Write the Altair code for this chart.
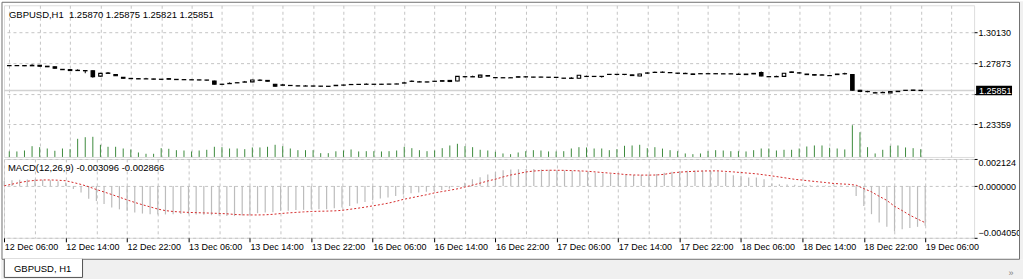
import json
import altair as alt
import pandas as pd

# ---------------- data ----------------
bar_index = list(range(121))
time_labels = ["12 Dec 06:00", "12 Dec 14:00", "12 Dec 22:00", "13 Dec 06:00",
               "13 Dec 14:00", "13 Dec 22:00", "16 Dec 06:00", "16 Dec 14:00",
               "16 Dec 22:00", "17 Dec 06:00", "17 Dec 14:00", "17 Dec 22:00",
               "18 Dec 06:00", "18 Dec 14:00", "18 Dec 22:00", "19 Dec 06:00"]

opens = [1.27700, 1.27690, 1.27700, 1.27680, 1.27720, 1.27650, 1.27610, 1.27420, 1.27400, 1.27330,
         1.27330, 1.27320, 1.26920, 1.27120, 1.27040, 1.26830, 1.26750, 1.26730, 1.26710, 1.26710,
         1.26690, 1.26730, 1.26680, 1.26660, 1.26650, 1.26640, 1.26630, 1.26560, 1.26320, 1.26360,
         1.26420, 1.26470, 1.26490, 1.26620, 1.26600, 1.26320, 1.26240, 1.26230, 1.26200, 1.26180,
         1.26190, 1.26180, 1.26170, 1.26240, 1.26260, 1.26290, 1.26300, 1.26310, 1.26320, 1.26310,
         1.26320, 1.26330, 1.26400, 1.26530, 1.26480, 1.26490, 1.26530, 1.26580, 1.26600, 1.26560,
         1.26880, 1.26860, 1.26840, 1.26960, 1.26810, 1.26800, 1.26790, 1.26870, 1.26860, 1.26850,
         1.26840, 1.26840, 1.26830, 1.26770, 1.26750, 1.26760, 1.26900, 1.26900, 1.26900, 1.27050,
         1.27050, 1.27050, 1.27010, 1.26930, 1.27150, 1.27190, 1.27210, 1.27180, 1.27140, 1.27100,
         1.27080, 1.27100, 1.27090, 1.27100, 1.27090, 1.27080, 1.27040, 1.27070, 1.27120, 1.27190,
         1.26880, 1.26870, 1.26900, 1.27230, 1.27160, 1.27070, 1.27030, 1.26990, 1.26960, 1.27070,
         1.27090, 1.27040, 1.25870, 1.25780, 1.25670, 1.25690, 1.25680, 1.25800, 1.25870, 1.25890,
         1.25870]
highs = [1.27720, 1.27725, 1.27715, 1.27790, 1.27735, 1.27660, 1.27620, 1.27435, 1.27410, 1.27420,
         1.27340, 1.27340, 1.27160, 1.27220, 1.27060, 1.26840, 1.26760, 1.26740, 1.26790, 1.26720,
         1.26700, 1.26740, 1.26690, 1.26670, 1.26660, 1.26650, 1.26640, 1.26580, 1.26340, 1.26450,
         1.26450, 1.26560, 1.26650, 1.26680, 1.26610, 1.26340, 1.26340, 1.26250, 1.26210, 1.26240,
         1.26200, 1.26190, 1.26180, 1.26250, 1.26280, 1.26320, 1.26330, 1.26380, 1.26330, 1.26340,
         1.26350, 1.26360, 1.26500, 1.26600, 1.26560, 1.26500, 1.26560, 1.26590, 1.26610, 1.26920,
         1.26930, 1.26950, 1.27010, 1.26970, 1.26820, 1.26810, 1.26810, 1.26880, 1.26920, 1.26860,
         1.26870, 1.26850, 1.26840, 1.26780, 1.26840, 1.27000, 1.26950, 1.26910, 1.26910, 1.27060,
         1.27060, 1.27060, 1.27020, 1.27090, 1.27200, 1.27250, 1.27260, 1.27190, 1.27150, 1.27170,
         1.27090, 1.27110, 1.27120, 1.27110, 1.27100, 1.27110, 1.27120, 1.27080, 1.27130, 1.27260,
         1.26890, 1.26950, 1.27150, 1.27240, 1.27210, 1.27080, 1.27040, 1.27060, 1.26970, 1.27080,
         1.27170, 1.27060, 1.25900, 1.25830, 1.25750, 1.25770, 1.25800, 1.25810, 1.25880, 1.25900,
         1.25875]
lows = [1.27670, 1.27675, 1.27660, 1.27665, 1.27630, 1.27590, 1.27480, 1.27380, 1.27320, 1.27320,
        1.27130, 1.26800, 1.26880, 1.27100, 1.26930, 1.26740, 1.26710, 1.26700, 1.26700, 1.26680,
        1.26660, 1.26680, 1.26650, 1.26630, 1.26630, 1.26610, 1.26600, 1.26300, 1.26290, 1.26350,
        1.26400, 1.26460, 1.26470, 1.26550, 1.26530, 1.26150, 1.26230, 1.26200, 1.26170, 1.26170,
        1.26160, 1.26150, 1.26140, 1.26190, 1.26230, 1.26280, 1.26290, 1.26300, 1.26300, 1.26300,
        1.26310, 1.26320, 1.26390, 1.26480, 1.26470, 1.26460, 1.26520, 1.26530, 1.26480, 1.26540,
        1.26820, 1.26850, 1.26830, 1.26910, 1.26790, 1.26780, 1.26780, 1.26830, 1.26820, 1.26830,
        1.26830, 1.26820, 1.26800, 1.26740, 1.26740, 1.26740, 1.26850, 1.26870, 1.26810, 1.27030,
        1.26980, 1.26990, 1.26950, 1.26920, 1.27090, 1.27150, 1.27170, 1.27150, 1.27080, 1.27090,
        1.27030, 1.27080, 1.27080, 1.27070, 1.27070, 1.27070, 1.27030, 1.27020, 1.27070, 1.26900,
        1.26850, 1.26860, 1.26880, 1.27180, 1.27100, 1.27020, 1.26980, 1.26980, 1.26930, 1.27020,
        1.27040, 1.25840, 1.25740, 1.25720, 1.25660, 1.25680, 1.25660, 1.25760, 1.25850, 1.25850,
        1.25821]
closes = [1.27690, 1.27700, 1.27680, 1.27720, 1.27650, 1.27610, 1.27500, 1.27395, 1.27330, 1.27350,
          1.27310, 1.26880, 1.27120, 1.27150, 1.26950, 1.26760, 1.26730, 1.26710, 1.26720, 1.26690,
          1.26680, 1.26690, 1.26660, 1.26650, 1.26640, 1.26630, 1.26620, 1.26320, 1.26310, 1.26380,
          1.26430, 1.26490, 1.26630, 1.26610, 1.26540, 1.26170, 1.26270, 1.26220, 1.26190, 1.26190,
          1.26180, 1.26170, 1.26160, 1.26210, 1.26250, 1.26300, 1.26310, 1.26320, 1.26310, 1.26320,
          1.26330, 1.26340, 1.26420, 1.26540, 1.26500, 1.26480, 1.26540, 1.26540, 1.26520, 1.26900,
          1.26870, 1.26880, 1.26990, 1.26920, 1.26800, 1.26790, 1.26800, 1.26840, 1.26870, 1.26840,
          1.26850, 1.26830, 1.26820, 1.26760, 1.26770, 1.26980, 1.26890, 1.26890, 1.26890, 1.27040,
          1.27040, 1.27040, 1.26960, 1.27070, 1.27140, 1.27200, 1.27200, 1.27170, 1.27130, 1.27120,
          1.27040, 1.27090, 1.27100, 1.27090, 1.27080, 1.27090, 1.27060, 1.27030, 1.27080, 1.26930,
          1.26870, 1.26890, 1.27130, 1.27190, 1.27150, 1.27030, 1.26990, 1.27010, 1.26950, 1.27030,
          1.27100, 1.25870, 1.25780, 1.25770, 1.25690, 1.25710, 1.25780, 1.25770, 1.25860, 1.25860,
          1.25851]
volumes = [1400, 1380, 1620, 2700, 2450, 2120, 1550, 2120, 1950, 4550,
           4950, 5050, 3050, 2550, 2550, 2120, 1880, 1120, 800, 800,
           2200, 2050, 1700, 1620, 1380, 1620, 1800, 2550, 2450, 2120,
           2120, 1950, 2380, 2380, 2550, 3050, 2700, 2120, 1700, 1700,
           1700, 950, 950, 1420, 1620, 1880, 1380, 1450, 1450, 1380,
           1450, 1620, 2550, 2200, 1700, 1450, 1620, 2200, 2880, 3300,
           2700, 2450, 1800, 1620, 1300, 880, 700, 1120, 1450, 1700,
           1620, 1380, 1380, 1450, 2120, 2450, 2380, 2120, 2120, 1700,
           1950, 2800, 2880, 3050, 2200, 2450, 2100, 1700, 1450, 880,
           700, 880, 1450, 1700, 1620, 1450, 1450, 1380, 1700, 2120,
           2120, 1620, 1800, 1800, 2120, 2620, 2880, 2880, 2300, 2120,
           1880, 7950, 6200, 2450, 880, 1800, 2800, 2880, 2380, 2200,
           1950]
macd_main = [0.00040, 0.00045, 0.00050, 0.00052, 0.00052, 0.00050, 0.00045, 0.00038, 0.00028, -0.00022,
             -0.00050, -0.00100, -0.00116, -0.00141, -0.00168, -0.00182, -0.00194, -0.00207, -0.00215, -0.00220,
             -0.00222, -0.00222, -0.00220, -0.00218, -0.00220, -0.00222, -0.00224, -0.00228, -0.00232, -0.00235,
             -0.00235, -0.00230, -0.00226, -0.00212, -0.00207, -0.00205, -0.00194, -0.00194, -0.00188, -0.00186,
             -0.00181, -0.00181, -0.00181, -0.00173, -0.00168, -0.00155, -0.00137, -0.00124, -0.00110, -0.00098,
             -0.00090, -0.00077, -0.00066, -0.00056, -0.00050, -0.00045, -0.00038, -0.00030, -0.00020, -0.00004,
             0.00027, 0.00054, 0.00070, 0.00090, 0.00110, 0.00125, 0.00130, 0.00132, 0.00133, 0.00133,
             0.00130, 0.00128, 0.00125, 0.00122, 0.00120, 0.00118, 0.00112, 0.00105, 0.00100, 0.00095,
             0.00090, 0.00088, 0.00087, 0.00088, 0.00090, 0.00095, 0.00105, 0.00112, 0.00118, 0.00120,
             0.00122, 0.00122, 0.00120, 0.00115, 0.00106, 0.00085, 0.00080, 0.00067, 0.00067, 0.00054,
             0.00020, 0.00015, 0.00012, 0.00010, 0.00008, 0.00006, 0.00005, 0.00004, 0.00003, 0.00002,
             0.00001, -0.00077, -0.00155, -0.00220, -0.00285, -0.00319, -0.00355, -0.00337, -0.00329, -0.00319,
             -0.003096]
macd_signal = [0.00002, 0.00015, 0.00028, 0.00038, 0.00045, 0.00048, 0.00048, 0.00046, 0.00042, 0.00028,
               0.00013, -0.00005, -0.00027, -0.00046, -0.00066, -0.00087, -0.00108, -0.00128, -0.00146, -0.00163,
               -0.00180, -0.00192, -0.00199, -0.00203, -0.00206, -0.00208, -0.00210, -0.00212, -0.00214, -0.00217,
               -0.00222, -0.00225, -0.00226, -0.00226, -0.00225, -0.00221, -0.00215, -0.00210, -0.00206, -0.00202,
               -0.00199, -0.00197, -0.00196, -0.00194, -0.00190, -0.00182, -0.00174, -0.00165, -0.00155, -0.00145,
               -0.00134, -0.00120, -0.00104, -0.00092, -0.00080, -0.00068, -0.00054, -0.00043, -0.00033, -0.00022,
               -0.00008, 0.00007, 0.00023, 0.00040, 0.00054, 0.00072, 0.00087, 0.00098, 0.00111, 0.00118,
               0.00122, 0.00124, 0.00124, 0.00123, 0.00121, 0.00119, 0.00116, 0.00111, 0.00106, 0.00101,
               0.00096, 0.00090, 0.00087, 0.00086, 0.00086, 0.00087, 0.00092, 0.00103, 0.00109, 0.00113,
               0.00116, 0.00118, 0.00119, 0.00119, 0.00115, 0.00111, 0.00106, 0.00101, 0.00096, 0.00088,
               0.00080, 0.00071, 0.00062, 0.00053, 0.00047, 0.00040, 0.00034, 0.00028, 0.00021, 0.00017,
               0.00014, 0.00007, -0.00020, -0.00045, -0.00080, -0.00112, -0.00158, -0.00192, -0.00228, -0.00258,
               -0.002866]
price_ticks = [1.30130, 1.27873, 1.25616, 1.23359]
hidden_price_tick = 1.25616
macd_ticks = [-0.004050, 0.0, 0.002124]

symbol = "GBPUSD"
timeframe = "H1"

# ---------------- styles / layout ----------------
FONT = "Liberation Sans"
GRID = "#c4c4c4"
FRAME = "#202020"
W = 972
H_MAIN = 152
H_MACD = 79

df = pd.DataFrame({
    "i": bar_index, "open": opens, "high": highs, "low": lows, "close": closes,
    "vol": volumes, "macd": macd_main, "signal": macd_signal,
})
df["zero"] = 0.0

last_price = closes[-1]
header_main = (f"{symbol},{timeframe}\u00a0\u00a0{opens[-1]:.5f} {highs[-1]:.5f} "
               f"{lows[-1]:.5f} {closes[-1]:.5f}")
header_macd = f"MACD(12,26,9) {macd_main[-1]:.6f} {macd_signal[-1]:.6f}"

xscale = alt.Scale(domain=[-0.04, 126.37], nice=False, zero=False)
pscale = alt.Scale(domain=[1.20936, 1.32160], nice=False, zero=False)
vscale = alt.Scale(domain=[0, 38000], nice=False, zero=False)
mscale = alt.Scale(domain=[macd_ticks[0], macd_ticks[-1]], nice=False, zero=False)

grid_vals = list(range(0, 125, 4))

main_x_axis = alt.Axis(values=grid_vals, grid=True, gridDash=[3, 3], gridColor=GRID,
                       labels=False, ticks=False, domain=False, title=None)
X_main = alt.X("i:Q", scale=xscale, axis=main_x_axis)

price_axis = alt.Axis(
    orient="right", values=price_ticks,
    labelExpr=f"abs(datum.value - {hidden_price_tick}) < 0.000001 ? '' : format(datum.value, '.5f')",
    grid=True, gridDash=[3, 3], gridColor=GRID, domain=False,
    tickSize=3, tickColor="black", labelPadding=1, labelFont=FONT, labelFontSize=9,
    labelColor="black", title=None)

base = alt.Chart(df)
last_df = pd.DataFrame({"p": [last_price]})

price_line = alt.Chart(last_df).mark_rule(color="#d2d2d2", strokeWidth=1.6).encode(
    y=alt.Y("p:Q", scale=pscale, axis=price_axis))

volume = base.mark_rule(color="#3d8b3d", strokeWidth=1).encode(
    x=X_main, y=alt.Y("vol:Q", scale=vscale, axis=None), y2="zero:Q")

wicks = base.mark_rule(color="black", strokeWidth=1).encode(
    x=X_main, y=alt.Y("low:Q", scale=pscale, axis=None), y2="high:Q")

bodies = base.mark_bar(size=3.5, stroke="black", strokeWidth=1.1).encode(
    x=X_main, y=alt.Y("open:Q", scale=pscale, axis=None), y2="close:Q",
    fill=alt.condition(alt.datum.close >= alt.datum.open, alt.value("white"), alt.value("black")))

head_main = alt.Chart(pd.DataFrame({"t": [header_main]})).mark_text(
    align="left", baseline="middle", font=FONT, fontSize=9.5, color="black").encode(
    x=alt.value(5), y=alt.value(10), text="t:N")

plabel_box = alt.Chart(last_df).mark_point(
    shape="M-1,-0.26L1,-0.26L1,0.26L-1,0.26Z", size=1296, filled=True,
    color="black", opacity=1).encode(
    x=alt.value(992), y=alt.Y("p:Q", scale=pscale, axis=None))

plabel_text = alt.Chart(last_df).mark_text(
    align="left", baseline="middle", color="white", font=FONT, fontSize=9).encode(
    x=alt.value(977), y=alt.Y("p:Q", scale=pscale, axis=None),
    text=alt.Text("p:Q", format=".5f"))

main = alt.layer(price_line, volume, wicks, bodies, head_main, plabel_box, plabel_text).resolve_scale(
    y="independent").properties(width=W, height=H_MAIN)

# ---------------- MACD panel ----------------
label_expr = f"datum.value % 8 === 0 ? {json.dumps(time_labels)}[datum.value / 8] : ''"
macd_x_axis = alt.Axis(
    values=grid_vals, grid=True, gridDash=[3, 3], gridColor=GRID, domain=False,
    ticks=True, tickSize=4,
    tickColor={"condition": {"test": "datum.value % 8 === 0", "value": "black"},
               "value": "rgba(0,0,0,0)"},
    labelExpr=label_expr, labelAlign="left", labelBaseline="top", labelPadding=1,
    labelFont=FONT, labelFontSize=9, labelColor="black", labelOverlap=False,
    labelFlush=False, title=None)
X_macd = alt.X("i:Q", scale=xscale, axis=macd_x_axis)

macd_axis = alt.Axis(
    orient="right", values=macd_ticks, format=".6f", labelFlush=True,
    grid=True, gridDash=[3, 3], gridColor=GRID, domain=False,
    tickSize=3, tickColor="black", labelPadding=1, labelFont=FONT, labelFontSize=9,
    labelColor="black", title=None)

hist = base.mark_rule(color="#bcbcbc", strokeWidth=1.2).encode(
    x=X_macd, y=alt.Y("macd:Q", scale=mscale, axis=macd_axis), y2="zero:Q")

sig = base.mark_line(color="#d42a2a", strokeWidth=1, strokeDash=[2, 2]).encode(
    x=X_macd, y=alt.Y("signal:Q", scale=mscale, axis=macd_axis))

head_macd = alt.Chart(pd.DataFrame({"t": [header_macd]})).mark_text(
    align="left", baseline="middle", font=FONT, fontSize=9.5, color="black").encode(
    x=alt.value(4), y=alt.value(9), text="t:N")

one = pd.DataFrame({"k": [0]})
strip_bottom = alt.Chart(one).mark_rect(color="#f0f0f0").encode(
    x=alt.value(-3), x2=alt.value(1021), y=alt.value(100.5), y2=alt.value(121))
strip_right = alt.Chart(one).mark_rect(color="#f0f0f0").encode(
    x=alt.value(1018), x2=alt.value(1021), y=alt.value(-158), y2=alt.value(100.5))
outer_frame = alt.Chart(one).mark_rect(fill=None, fillOpacity=0, stroke="#707070", strokeWidth=1).encode(
    x=alt.value(-2), x2=alt.value(1017.5), y=alt.value(-157), y2=alt.value(100.5))
tab_box = alt.Chart(one).mark_rect(fill="white", stroke="#505050", strokeWidth=1).encode(
    x=alt.value(0.3), x2=alt.value(78.7), y=alt.value(100.5), y2=alt.value(118.7))
tab_gap = alt.Chart(one).mark_rule(color="white", strokeWidth=1.5).encode(
    x=alt.value(0.9), x2=alt.value(78.1), y=alt.value(100.5))
tab_text = alt.Chart(pd.DataFrame({"t": [f"{symbol}, {timeframe}"]})).mark_text(
    align="left", baseline="middle", font=FONT, fontSize=9.5, color="black").encode(
    x=alt.value(10), y=alt.value(110), text="t:N")
more_text = alt.Chart(pd.DataFrame({"t": ["\u00bb"]})).mark_text(
    align="center", baseline="middle", font=FONT, fontSize=9, color="#808080").encode(
    x=alt.value(1009), y=alt.value(114), text="t:N")

macd = alt.layer(hist, sig, head_macd, strip_bottom, strip_right, outer_frame,
                 tab_box, tab_gap, tab_text, more_text).properties(width=W, height=H_MACD)

chart = alt.vconcat(main, macd, spacing=2, bounds="flush").properties(
    padding={"left": 0, "top": 0, "right": 0, "bottom": 0},
    autosize=alt.AutoSizeParams(type="pad"),
).configure_view(stroke=FRAME, strokeWidth=1).configure(background="white")

chart.save("out.html", embed_options={"renderer": "svg", "actions": False})
